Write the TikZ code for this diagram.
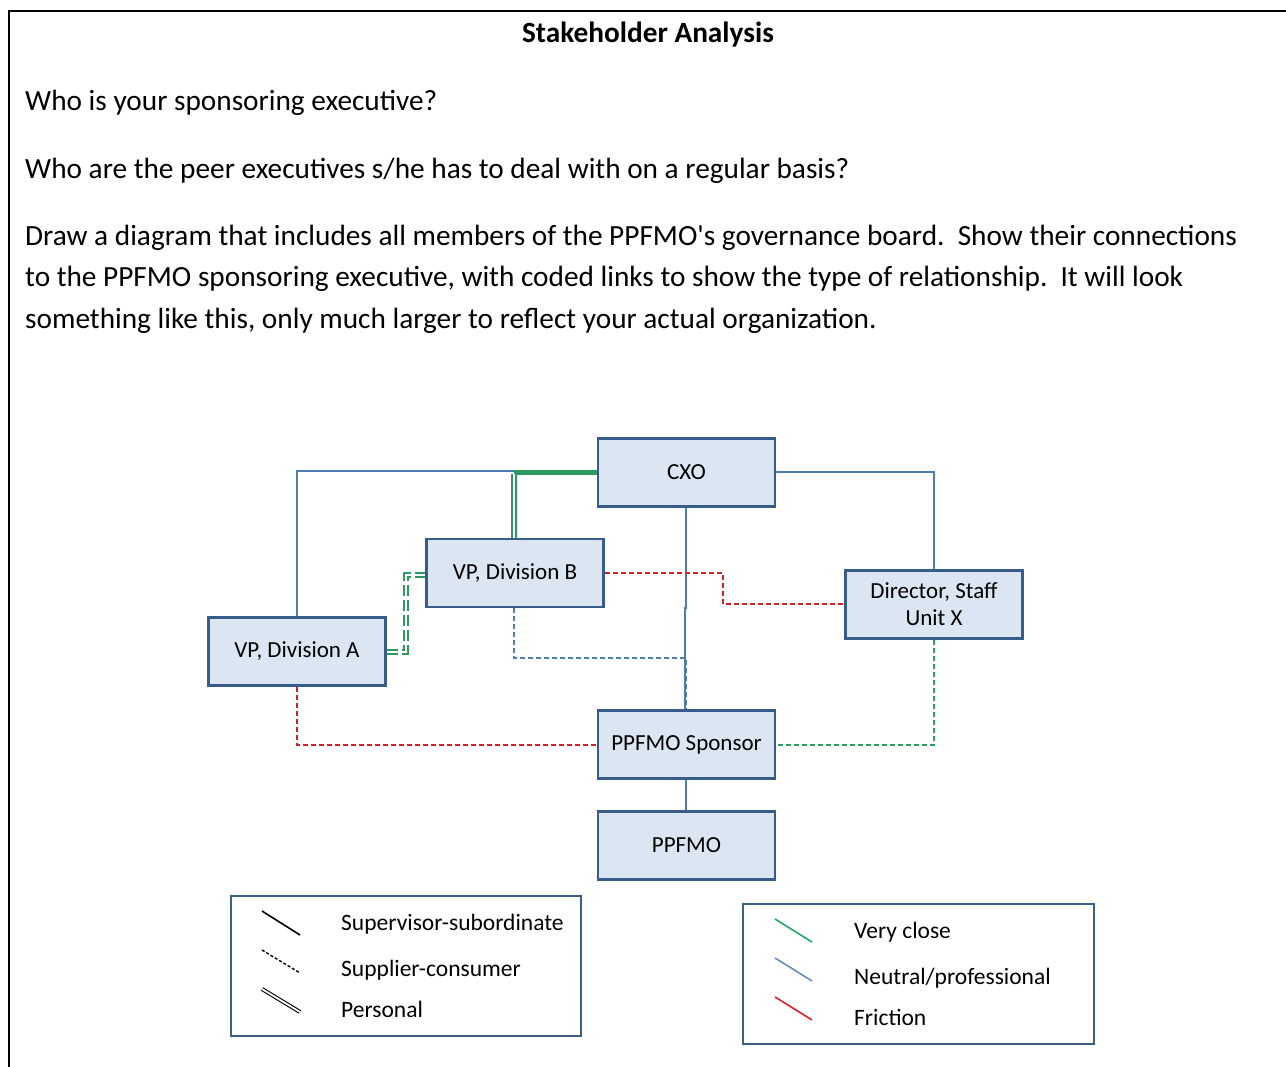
\documentclass[tikz,border=0pt]{standalone}
\usepackage{fontspec}
\setmainfont{Carlito}[Ligatures=TeXOff]
\begin{document}
\begin{tikzpicture}[x=1pt,y=-1pt,
  box/.style={draw=boxline,fill=boxfill,line width=2.5pt,minimum width=177pt,minimum height=68pt,inner sep=0pt,font=\fontsize{23}{27}\selectfont,align=center},
  legbox/.style={draw=legline,line width=2pt},
  bline/.style={draw=nblue,line width=1.6pt},
  bdash/.style={draw=nblue,line width=1.6pt,dash pattern=on 5pt off 3pt},
  rdash/.style={draw=fred,line width=1.8pt,dash pattern=on 5pt off 3pt},
  gdash/.style={draw=vgreen,line width=1.8pt,dash pattern=on 5pt off 3pt},
  gdouble/.style={draw=vgreen,line width=1.5pt,double=white,double distance=2.2pt},
  gthick/.style={draw=vgreen,line width=4.6pt},
  gddouble/.style={draw=vgreen,line width=1.5pt,double=white,double distance=2.2pt,dash pattern=on 11pt off 4pt},
  body/.style={anchor=west,inner sep=0pt,font=\fontsize{29.3}{34}\selectfont},
  legtxt/.style={anchor=west,inner sep=0pt,font=\fontsize{23.5}{28}\selectfont}
]
\definecolor{boxfill}{HTML}{DCE6F2}
\definecolor{boxline}{HTML}{385D8A}
\definecolor{legline}{HTML}{3C5F86}
\definecolor{nblue}{HTML}{4F7DB0}
\definecolor{fred}{HTML}{D0202A}
\definecolor{vgreen}{HTML}{2E9A62}
\definecolor{lgreen}{HTML}{22A862}
\definecolor{lblue}{HTML}{6A8CC4}
\definecolor{lred}{HTML}{E0202A}
\useasboundingbox (0,0) rectangle (1286,1067);
\fill[white] (0,0) rectangle (1286,1067);
% page frame
\draw[line width=2pt] (9,1067) -- (9,11) -- (1290,11);

% texts
\node[inner sep=0pt,font=\fontsize{29.3}{34}\selectfont\bfseries] (title) at (648,35) {Stakeholder Analysis};
\node[body] (q1) at (25,103) {Who is your sponsoring executive?};
\node[body] (q2) at (25,171) {Who are the peer executives s/he has to deal with on a regular basis?};
\node[body] (p1) at (25,238) {Draw a diagram that includes all members of the PPFMO's governance board.\ \ Show their connections};
\node[body] (p2) at (25,279) {to the PPFMO sponsoring executive, with coded links to show the type of relationship.\ \ It will look};
\node[body] (p3) at (25,321) {something like this, only much larger to reflect your actual organization.};

% connector end points
\coordinate (cxoL) at (597,471);
\coordinate (cxoL2) at (597,472.5);
\coordinate (vbCorner) at (514,472.5);
\coordinate (cxoR) at (776,472);
\coordinate (cxoB) at (686,508);
\coordinate (vbT) at (514,538);
\coordinate (vbR) at (605,573);
\coordinate (vbL) at (425,575);
\coordinate (vbB) at (514,608);
\coordinate (dirT) at (934,569);
\coordinate (dirL) at (844,604);
\coordinate (dirB) at (934,640);
\coordinate (vaT) at (297,616);
\coordinate (vaR) at (387,652);
\coordinate (vaB) at (297,687);
\coordinate (spT) at (686,709);
\coordinate (spL) at (597,745);
\coordinate (spR) at (776,745);
\coordinate (spB) at (686,780);
\coordinate (pT) at (686,810);

\draw[bline] (cxoL) -| (vaT);
\draw[gthick] (cxoL2) -- (vbCorner);
\draw[gdouble] ([yshift=-1.5pt]vbCorner) -- (vbT);
\draw[bline] (cxoR) -| (dirT);
\draw[bline] (cxoB) -- (686,608) -- (685,608) -- (685,709);
\draw[rdash] (vbR) -- (723,573) |- (dirL);
\draw[bdash] (vbB) |- (686,658) -- (spT);
\draw[gddouble] (vaR) -- (406,652) |- (vbL);
\draw[rdash] (vaB) |- (spL);
\draw[gdash] (dirB) |- (spR);
\draw[bline] (spB) -- (pT);

% boxes
\node[box] (cxo) at (686.5,472.5) {CXO};
\node[box] (vpb) at (515,573) {VP, Division B};
\node[box] (dir) at (934,604.5) {Director, Staff\\Unit X};
\node[box] (vpa) at (297,651.5) {VP, Division A};
\node[box] (spon) at (686.5,744.5) {PPFMO Sponsor};
\node[box] (ppfmo) at (686.5,845.5) {PPFMO};

% legend left
\draw[legbox] (231,896) rectangle (581,1036);
\draw[line width=1.6pt] (262,911) -- (300,935);
\draw[line width=1.4pt,dash pattern=on 3pt off 2pt] (262,950) -- (300,973);
\draw[line width=1.1pt,double=white,double distance=1.8pt] (262,989) -- (300,1012);
\node[legtxt] (l1) at (341,924) {Supervisor-subordinate};
\node[legtxt] (l2) at (341,970) {Supplier-consumer};
\node[legtxt] (l3) at (341,1009) {Personal};

% legend right
\draw[legbox] (743,904) rectangle (1094,1044);
\draw[line width=1.6pt,draw=lgreen] (775,919) -- (812,942);
\draw[line width=1.6pt,draw=lblue] (775,958) -- (812,981);
\draw[line width=1.6pt,draw=lred] (775,997) -- (812,1020);
\node[legtxt] (r1) at (854,932) {Very close};
\node[legtxt] (r2) at (854,978) {Neutral/professional};
\node[legtxt] (r3) at (854,1017) {Friction};
\end{tikzpicture}
\end{document}
